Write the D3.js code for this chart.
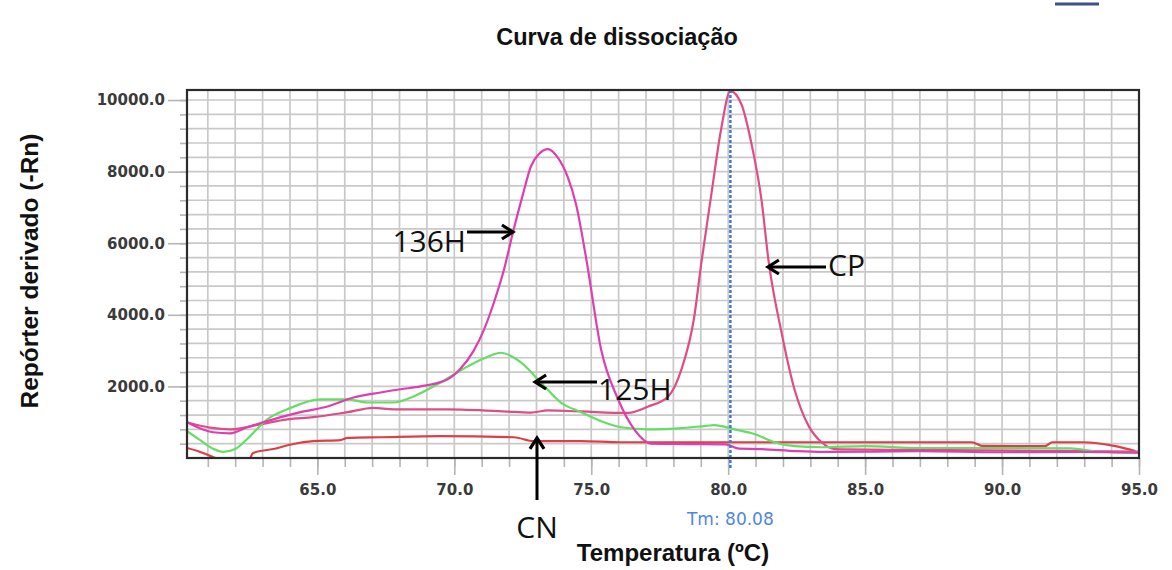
<!DOCTYPE html>
<html>
<head>
<meta charset="utf-8">
<script src="https://cdn.jsdelivr.net/npm/d3@7"></script>
<style>
  body { margin: 0; background: #fff; }
  svg { display: block; }
</style>
</head>
<body>
<div id="chart"></div>
<script>

// ---- DATA ----
let temp136H = [60.24, 61.19, 61.82, 62.44, 63.39, 64.38, 65.37, 66.32, 67.31, 68.04, 68.77, 69.76, 70.23, 70.71, 71.08, 71.44, 71.81, 72.14, 72.50, 72.80, 73.10, 73.42, 73.78, 74.15, 74.44, 74.81, 75.36, 75.98, 76.57, 77.19, 78.5, 79.9, 80.4, 81.2, 82.5, 83.5, 87.0, 90.0, 93.0, 95.0];
let val136H  = [1000, 720, 690, 860, 1080, 1280, 1440, 1690, 1830, 1920, 2000, 2200, 2500, 3000, 3580, 4330, 5250, 6300, 7350, 8150, 8500, 8630, 8390, 7830, 7100, 5600, 3030, 1640, 800, 400, 390, 380, 260, 250, 190, 170, 190, 160, 170, 150];

let temp125H = [60.24, 60.72, 61.19, 61.56, 62.0, 62.44, 63.17, 63.90, 65.11, 66.10, 66.83, 67.78, 68.51, 69.50, 70.49, 71.22, 71.70, 72.43, 73.16, 73.89, 74.63, 75.36, 76.09, 77.08, 78.18, 79.2, 79.5, 80.23, 80.96, 81.69, 82.42, 83.41, 85.0, 87.0, 90.0, 92.5, 93.5, 95.0];
let val125H  = [750, 500, 260, 170, 250, 530, 1080, 1360, 1640, 1640, 1550, 1550, 1720, 2110, 2560, 2830, 2940, 2670, 2110, 1550, 1280, 1030, 860, 800, 830, 900, 920, 800, 670, 440, 330, 300, 330, 280, 280, 270, 180, 150];

let tempCP = [60.24, 61.08, 61.82, 62.91, 63.90, 64.85, 66.10, 67.05, 67.78, 69.76, 72.17, 72.8, 73.42, 74.63, 76.35, 77.08, 77.81, 78.29, 78.76, 79.02, 79.39, 79.75, 80.08, 80.48, 80.85, 81.22, 81.47, 81.95, 82.42, 82.94, 83.41, 83.89, 88.0, 92.0, 95.0];
let valCP  = [1000, 850, 800, 940, 1080, 1140, 1280, 1400, 1360, 1360, 1290, 1270, 1330, 1300, 1260, 1440, 1720, 2470, 3940, 5450, 7390, 9220, 10250, 9890, 8780, 7190, 5530, 3500, 1920, 890, 440, 250, 220, 200, 180];

let tempCN = [60.24, 60.72, 61.08, 61.45, 62.18, 62.5, 62.65, 63.39, 64.12, 64.85, 65.84, 66.10, 67.31, 69.50, 72.17, 72.91, 74.63, 76.09, 88.90, 89.27, 91.57, 91.83, 92.93, 94.14, 94.87];
let valCN  = [280, 170, 60, -40, -80, -60, 140, 250, 390, 470, 500, 560, 580, 610, 580, 470, 470, 440, 440, 340, 330, 440, 440, 330, 190];

let seriesNames  = ["CN", "CP", "125H", "136H"];
let seriesColors = ["#dc4046", "#e04c86", "#66dd66", "#dd3fae"];

let yTickValues = [2000, 4000, 6000, 8000, 10000];
let xTickValues = [65, 70, 75, 80, 85, 90, 95];
let tmValue = 80.08;

// ---- CHART AREA ----
let width = 1172, height = 570;
let plot = {left: 187, right: 1139, top: 90, bottom: 458};

let svg = d3.select("#chart").append("svg")
    .attr("width", width)
    .attr("height", height)
    .style("font-family", "Arial, 'Liberation Sans', sans-serif");

svg.append("rect").attr("width", width).attr("height", height).attr("fill", "#fff");

let x = d3.scaleLinear().domain([60.24, 95]).range([plot.left, plot.right]);
let y = d3.scaleLinear().domain([0, 10280]).range([plot.bottom, plot.top]);

// GRID
let grid = svg.append("g").attr("class", "grid");
grid.selectAll(".vgrid")
    .data(d3.range(61, 95, 1))
    .enter().append("line")
    .attr("x1", d => x(d)).attr("x2", d => x(d))
    .attr("y1", plot.top).attr("y2", plot.bottom)
    .attr("stroke", "#c9c9c9").attr("stroke-width", 1.7);
grid.selectAll(".hgrid")
    .data(d3.range(400, 10001, 400))
    .enter().append("line")
    .attr("x1", plot.left).attr("x2", plot.right)
    .attr("y1", d => y(d)).attr("y2", d => y(d))
    .attr("stroke", "#c9c9c9").attr("stroke-width", 1.7);

// AXES
let yAxisMinor = d3.axisLeft(y).tickValues(d3.range(400, 10001, 400)).tickSize(7).tickFormat("");
let yAxisMajor = d3.axisLeft(y).tickValues(yTickValues).tickSize(19).tickPadding(3).tickFormat(d3.format(".1f"));
let xAxisMinor = d3.axisBottom(x).tickValues(d3.range(61, 96, 1)).tickSize(9).tickFormat("");
let xAxisMajor = d3.axisBottom(x).tickValues(xTickValues).tickSize(17).tickPadding(9).tickFormat(d3.format(".1f"));

[yAxisMinor, yAxisMajor].forEach(ax => {
    svg.append("g")
        .attr("transform", "translate(" + plot.left + ",0)")
        .call(ax);
});
[xAxisMinor, xAxisMajor].forEach(ax => {
    svg.append("g")
        .attr("transform", "translate(0," + plot.bottom + ")")
        .call(ax);
});
svg.selectAll(".domain").remove();
svg.selectAll(".tick line").attr("stroke", "#b5b5b5").attr("stroke-width", 1.6);
svg.selectAll(".tick text")
    .attr("fill", "#3a3a3a")
    .style("font-family", "'DejaVu Sans', Verdana, sans-serif")
    .style("font-size", "15px")
    .style("font-weight", "bold");

// CURVES
svg.append("clipPath").attr("id", "plotclip")
    .append("rect")
    .attr("x", plot.left).attr("y", plot.top)
    .attr("width", plot.right - plot.left).attr("height", plot.bottom - plot.top);

let line = d3.line()
    .x(d => x(d[0]))
    .y(d => y(d[1]))
    .curve(d3.curveMonotoneX);

let seriesData = [
    d3.zip(tempCN, valCN),
    d3.zip(tempCP, valCP),
    d3.zip(temp125H, val125H),
    d3.zip(temp136H, val136H)
];

svg.append("g").attr("clip-path", "url(#plotclip)")
    .selectAll(".curve")
    .data(seriesData)
    .enter().append("path")
    .attr("class", "curve")
    .attr("d", line)
    .attr("fill", "none")
    .attr("stroke", (d, i) => seriesColors[i])
    .attr("stroke-width", 2.2);

// Tm marker
svg.append("line")
    .attr("x1", x(tmValue)).attr("x2", x(tmValue))
    .attr("y1", plot.top).attr("y2", plot.bottom + 12)
    .attr("stroke", "#3f78d6")
    .attr("stroke-width", 2.5)
    .attr("stroke-dasharray", "3,2");

svg.append("text")
    .attr("x", x(tmValue)).attr("y", 525)
    .attr("text-anchor", "middle")
    .attr("fill", "#4f86e6")
    .style("font-family", "'DejaVu Sans', Verdana, sans-serif")
    .style("font-size", "17px")
    .text("Tm: " + tmValue.toFixed(2));

// FRAME
svg.append("rect")
    .attr("x", plot.left).attr("y", plot.top)
    .attr("width", plot.right - plot.left).attr("height", plot.bottom - plot.top)
    .attr("fill", "none")
    .attr("stroke", "#2b2b2b")
    .attr("stroke-width", 2.2);

// TITLES
svg.append("text")
    .attr("x", 617).attr("y", 45)
    .attr("text-anchor", "middle")
    .style("font-size", "23.5px").style("font-weight", "bold")
    .attr("fill", "#111")
    .text("Curva de dissociação");

svg.append("text")
    .attr("transform", "translate(38,271) rotate(-90)")
    .attr("text-anchor", "middle")
    .style("font-size", "24.5px").style("font-weight", "bold")
    .attr("fill", "#111")
    .text("Repórter derivado (-Rn)");

svg.append("text")
    .attr("x", 673).attr("y", 561)
    .attr("text-anchor", "middle")
    .style("font-size", "24px").style("font-weight", "bold")
    .attr("fill", "#111")
    .text("Temperatura (ºC)");

// small mark at top right
svg.append("line")
    .attr("x1", 1055).attr("x2", 1099)
    .attr("y1", 4).attr("y2", 4)
    .attr("stroke", "#3d5088").attr("stroke-width", 3);

// ANNOTATIONS (arrow pointing at a series point)
let annotations = [
    {label: "136H", from: [467, 232], to: [72.14, 6300], tx: 466, ty: 252, anchor: "end"},
    {label: "125H", from: [597, 382], to: [72.95, 2270], tx: 598, ty: 400, anchor: "start"},
    {label: "CP", from: [826, 267], to: [81.45, 6700], tx: 828, ty: 276, anchor: "start"},
    {label: "CN", from: [537, 500], to: [72.95, 560], tx: 537, ty: 538, anchor: "middle"}
];

let ann = svg.append("g").attr("class", "annotations");
annotations.forEach(a => {
    let x0 = a.from[0], y0 = a.from[1];
    let x1 = x(a.to[0]), y1 = y(a.to[1]);
    if (a.label === "CN") { x1 = x0; }
    else { y1 = y0; }
    let ang = Math.atan2(y1 - y0, x1 - x0);
    let hl = 11, hw = 7;
    let bx = x1 - hl * Math.cos(ang), by = y1 - hl * Math.sin(ang);
    let px = -Math.sin(ang) * hw, py = Math.cos(ang) * hw;

    ann.append("line")
        .attr("x1", x0).attr("y1", y0)
        .attr("x2", x1 - 2 * Math.cos(ang)).attr("y2", y1 - 2 * Math.sin(ang))
        .attr("stroke", "#000").attr("stroke-width", 3);
    ann.append("path")
        .attr("d", "M" + (bx + px) + "," + (by + py) + "L" + x1 + "," + y1 + "L" + (bx - px) + "," + (by - py))
        .attr("fill", "none")
        .attr("stroke", "#000").attr("stroke-width", 3.2)
        .attr("stroke-linejoin", "miter");
    ann.append("text")
        .attr("x", a.tx).attr("y", a.ty)
        .attr("text-anchor", a.anchor)
        .style("font-family", "'Open Sans', 'Noto Sans', sans-serif")
        .style("font-size", "30px")
        .attr("fill", "#111")
        .text(a.label);
});

</script>
</body>
</html>
